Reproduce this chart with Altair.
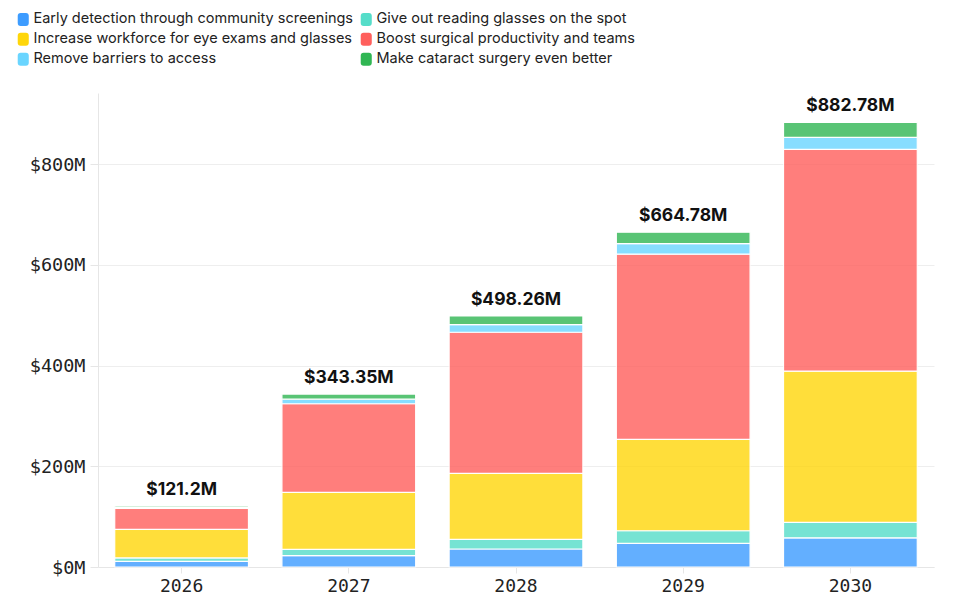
import altair as alt
import pandas as pd

years = ["2026", "2027", "2028", "2029", "2030"]
series = [
    "Early detection through community screenings",
    "Give out reading glasses on the spot",
    "Increase workforce for eye exams and glasses",
    "Boost surgical productivity and teams",
    "Remove barriers to access",
    "Make cataract surgery even better",
]
colors = ["#3d9cff", "#55ddc9", "#ffd60a", "#ff5f5c", "#6ad5ff", "#30b653"]

# values in $M, per series, per year
early = [11.0, 22.4, 35.7, 47.0, 58.0]
glasses = [7.0, 12.7, 19.3, 25.0, 30.7]
workforce = [56.8, 113.0, 131.0, 181.5, 300.3]
surgical = [41.7, 176.0, 280.0, 367.5, 440.0]
barriers = [2.0, 9.0, 15.0, 20.78, 23.78]
cataract = [2.7, 10.25, 17.26, 23.0, 30.0]

values = [early, glasses, workforce, surgical, barriers, cataract]
rows = []
for si, (name, vals) in enumerate(zip(series, values)):
    for y, v in zip(years, vals):
        rows.append({"year": y, "series": name, "value": v, "order": si})
df = pd.DataFrame(rows)

rounded = ("M-0.4,-1 H0.4 Q0.85,-1 0.85,-0.55 V0.55 Q0.85,1 0.4,1 H-0.4 "
           "Q-0.85,1 -0.85,0.55 V-0.55 Q-0.85,-1 -0.4,-1 Z")

base = alt.Chart(df)

bars = base.mark_bar(opacity=0.8, stroke="white", strokeWidth=1.2).encode(
    x=alt.X("year:N", sort=years,
            scale=alt.Scale(paddingInner=0.2, paddingOuter=0.1),
            axis=alt.Axis(title=None, labelAngle=0, labelFont="DejaVu Sans Mono",
                          labelFontSize=18, labelColor="#222", tickColor="#e6e6e6",
                          tickSize=6, domainColor="#e6e6e6", labelPadding=4)),
    y=alt.Y("sum(value):Q", stack="zero",
            scale=alt.Scale(domain=[0, 941], nice=False),
            axis=alt.Axis(title=None, values=[0, 200, 400, 600, 800],
                          labelExpr="'$' + datum.value + 'M'",
                          labelFont="DejaVu Sans Mono", labelFontSize=18.5,
                          labelColor="#222", tickColor="#e6e6e6", tickSize=8,
                          domainColor="#e6e6e6", gridColor="#eeeeee",
                          labelPadding=5)),
    color=alt.Color("series:N", scale=alt.Scale(domain=series, range=colors),
                    legend=alt.Legend(title=None, orient="none", legendX=-82,
                                      legendY=-81, columns=2, direction="horizontal",
                                      symbolType=rounded,
                                      symbolSize=169, symbolOpacity=1,
                                      symbolStrokeWidth=0,
                                      labelFont="Inter", labelFontSize=14.5,
                                      labelColor="#222", labelLimit=400,
                                      columnPadding=5, rowPadding=5,
                                      labelOffset=3)),
    order=alt.Order("order:Q", sort="ascending"),
)

labels = base.transform_aggregate(
    total="sum(value)", groupby=["year"]
).transform_calculate(
    label="'$' + format(datum.total, '.2~f') + 'M'"
).mark_text(font="Inter", fontSize=17.5, fontWeight="bold", color="#111",
            baseline="bottom", dy=-7).encode(
    x=alt.X("year:N", sort=years),
    y=alt.Y("total:Q"),
    text="label:N",
)

chart = alt.layer(bars, labels).properties(
    width=836, height=474,
    autosize=alt.AutoSizeParams(type="none"),
    padding={"left": 90, "top": 85, "right": 37, "bottom": 32},
    background="white",
).configure_view(stroke=None)

chart.save("out.html", embed_options={"renderer": "svg", "actions": False})
